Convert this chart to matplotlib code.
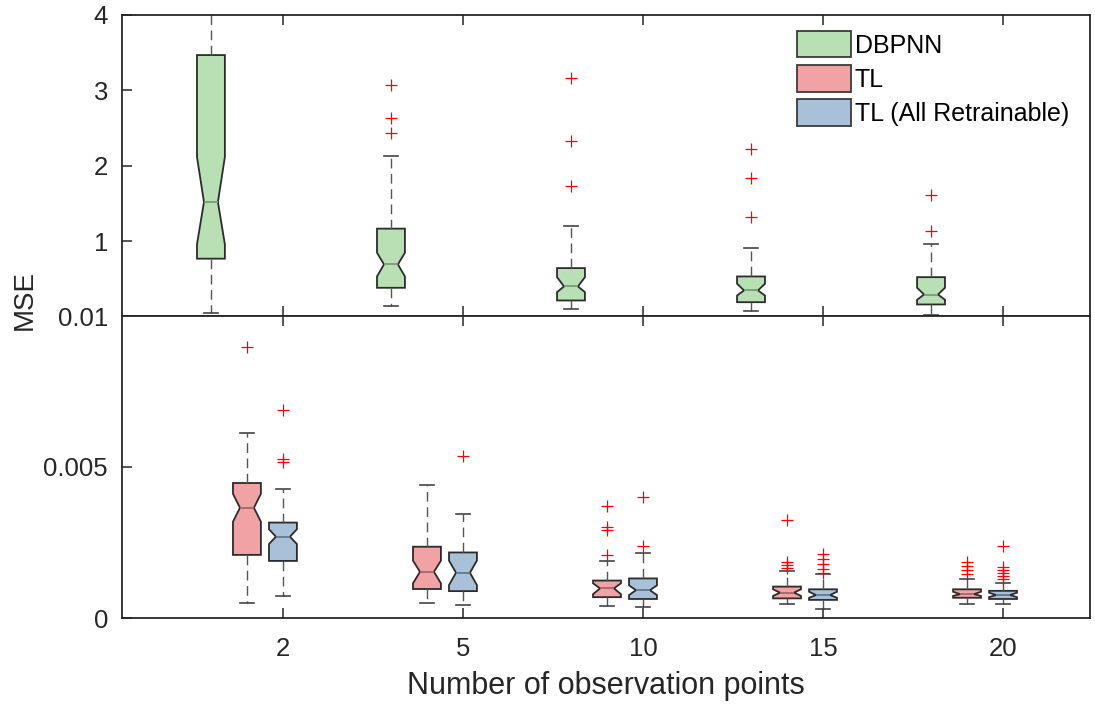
import matplotlib
matplotlib.use("Agg")
import matplotlib.pyplot as plt
from matplotlib.patches import Patch

plt.rcParams['font.family'] = ['Liberation Sans', 'DejaVu Sans']

# ---------------- data ----------------
categories = ['2', '5', '10', '15', '20']
series_names = ['DBPNN', 'TL', 'TL (All Retrainable)']

# DBPNN (upper panel)
dbpnn_whislo = [0.052, 0.136, 0.106, 0.070, 0.017]
dbpnn_q1     = [0.770, 0.384, 0.216, 0.193, 0.163]
dbpnn_cilo   = [0.960, 0.534, 0.326, 0.282, 0.225]
dbpnn_med    = [1.521, 0.694, 0.402, 0.349, 0.295]
dbpnn_cihi   = [2.119, 0.849, 0.525, 0.438, 0.384]
dbpnn_q3     = [3.469, 1.168, 0.645, 0.534, 0.525]
dbpnn_whishi = [4.500, 2.130, 1.208, 0.910, 0.969]
dbpnn_fliers = [[], [3.07, 2.64, 2.44], [3.17, 2.33, 1.73], [2.23, 1.84, 1.32], [1.62, 1.136]]

# TL (lower panel)
tl_whislo = [0.00051, 0.00051, 0.00041, 0.00046, 0.00046]
tl_q1     = [0.00209, 0.00096, 0.00069, 0.00065, 0.00067]
tl_cilo   = [0.00319, 0.00115, 0.00079, 0.00073, 0.00073]
tl_med    = [0.00365, 0.00153, 0.00098, 0.00084, 0.00079]
tl_cihi   = [0.00411, 0.00190, 0.00115, 0.00095, 0.00087]
tl_q3     = [0.00447, 0.00236, 0.00124, 0.00104, 0.00095]
tl_whishi = [0.00612, 0.00440, 0.00190, 0.00156, 0.00129]
tl_fliers = [[0.00898], [], [0.00372, 0.00301, 0.00290, 0.00209],
             [0.00324, 0.00187, 0.00176, 0.00166], [0.00186, 0.00172, 0.00158, 0.00145]]

# TL (All Retrainable) (lower panel)
tla_whislo = [0.00073, 0.00043, 0.00038, 0.00031, 0.00046]
tla_q1     = [0.00189, 0.00089, 0.00063, 0.00060, 0.00063]
tla_cilo   = [0.00245, 0.00109, 0.00076, 0.00067, 0.00069]
tla_med    = [0.00269, 0.00150, 0.00092, 0.00076, 0.00076]
tla_cihi   = [0.00294, 0.00190, 0.00108, 0.00087, 0.00084]
tla_q3     = [0.00316, 0.00217, 0.00131, 0.00095, 0.00090]
tla_whishi = [0.00426, 0.00343, 0.00216, 0.00146, 0.00115]
tla_fliers = [[0.00689, 0.00525, 0.00518], [0.00536], [0.00400, 0.00239],
              [0.00213, 0.00196, 0.00180, 0.00163, 0.00150],
              [0.00240, 0.00170, 0.00160, 0.00150, 0.00140, 0.00130]]

top_ticks = [0.01, 1, 2, 3, 4]
top_ticklabels = ['0.01', '1', '2', '3', '4']
bottom_ticks = [0, 0.005]
bottom_ticklabels = ['0', '0.005']

# ---------------- styling ----------------
face_colors = ['#B9DFB5', '#F1A2A4', '#A8C1D8']
median_colors = ['#789A75', '#A86468', '#62788E']
edge_color = '#2b2b2b'
axis_color = '#262626'


def make_stats(whislo, q1, cilo, med, cihi, q3, whishi, fliers):
    stats = []
    for i in range(len(med)):
        stats.append(dict(whislo=whislo[i], q1=q1[i], cilo=cilo[i], med=med[i],
                          cihi=cihi[i], q3=q3[i], whishi=whishi[i],
                          fliers=fliers[i]))
    return stats


def draw(ax, stats, positions, k):
    ax.bxp(stats, positions=positions, widths=0.155, shownotches=True,
           showfliers=True, patch_artist=True,
           boxprops=dict(facecolor=face_colors[k], edgecolor=edge_color, linewidth=1.3),
           medianprops=dict(color=median_colors[k], linewidth=1.3),
           whiskerprops=dict(color='#555555', linewidth=1.0, linestyle=(0, (7, 4))),
           capprops=dict(color='#444444', linewidth=1.2),
           flierprops=dict(marker='+', markeredgecolor='red', markersize=8,
                           markeredgewidth=0.9, linestyle='none'))


fig = plt.figure(figsize=(10.95, 7.04), dpi=100)
left = 122 / 1095
width = (1090 - 122) / 1095
ax_top = fig.add_axes([left, (704 - 316) / 704, width, 301 / 704])
ax_bot = fig.add_axes([left, (704 - 618) / 704, width, 302 / 704])

idx = list(range(1, len(categories) + 1))
pos_dbpnn = [i - 0.4 for i in idx]
pos_tl = [i - 0.2 for i in idx]
pos_tla = [i for i in idx]

draw(ax_top, make_stats(dbpnn_whislo, dbpnn_q1, dbpnn_cilo, dbpnn_med, dbpnn_cihi,
                        dbpnn_q3, dbpnn_whishi, dbpnn_fliers), pos_dbpnn, 0)
draw(ax_bot, make_stats(tl_whislo, tl_q1, tl_cilo, tl_med, tl_cihi,
                        tl_q3, tl_whishi, tl_fliers), pos_tl, 1)
draw(ax_bot, make_stats(tla_whislo, tla_q1, tla_cilo, tla_med, tla_cihi,
                        tla_q3, tla_whishi, tla_fliers), pos_tla, 2)

xlim = (0.106, 5.483)
for ax in (ax_top, ax_bot):
    ax.set_xlim(*xlim)
    ax.set_xticks(idx)
    for sp in ax.spines.values():
        sp.set_color(axis_color)
        sp.set_linewidth(1.3)
    ax.tick_params(axis='x', which='both', direction='in', top=True, bottom=True,
                   length=7.2, width=1.1, color=axis_color)
    ax.tick_params(axis='y', which='both', direction='in', left=True, right=False,
                   length=7.2, width=1.1, color=axis_color, labelsize=18.5, pad=10,
                   labelcolor='#262626')

ax_top.set_ylim(0.01, 4)
ax_top.set_yticks(top_ticks)
ax_top.set_yticklabels(top_ticklabels)
ax_top.tick_params(axis='x', labelbottom=False)

ax_bot.set_ylim(0, 0.01)
ax_bot.set_yticks(bottom_ticks)
ax_bot.set_yticklabels(bottom_ticklabels)
ax_bot.set_xticklabels(categories)
ax_bot.tick_params(axis='x', labelsize=18.5, pad=14, labelcolor='#262626')
ax_bot.set_xlabel('Number of observation points', fontsize=22, labelpad=7, color='#262626')

fig.text(25 / 1095, 1 - 300 / 704, 'MSE', rotation=90, ha='center', va='center',
         fontsize=20, color='#262626')

handles = [Patch(facecolor=face_colors[k], edgecolor='#3a3a3a', linewidth=1.3,
                 label=series_names[k]) for k in range(3)]
ax_top.legend(handles=handles, loc='upper left',
              bbox_to_anchor=(797 / 1095, 1 - 31 / 704), bbox_transform=fig.transFigure,
              frameon=False, borderpad=0, borderaxespad=0, fontsize=18,
              handlelength=2.15, handleheight=1.25, labelspacing=0.3,
              handletextpad=0.16)

fig.savefig('out.png', dpi=100)
